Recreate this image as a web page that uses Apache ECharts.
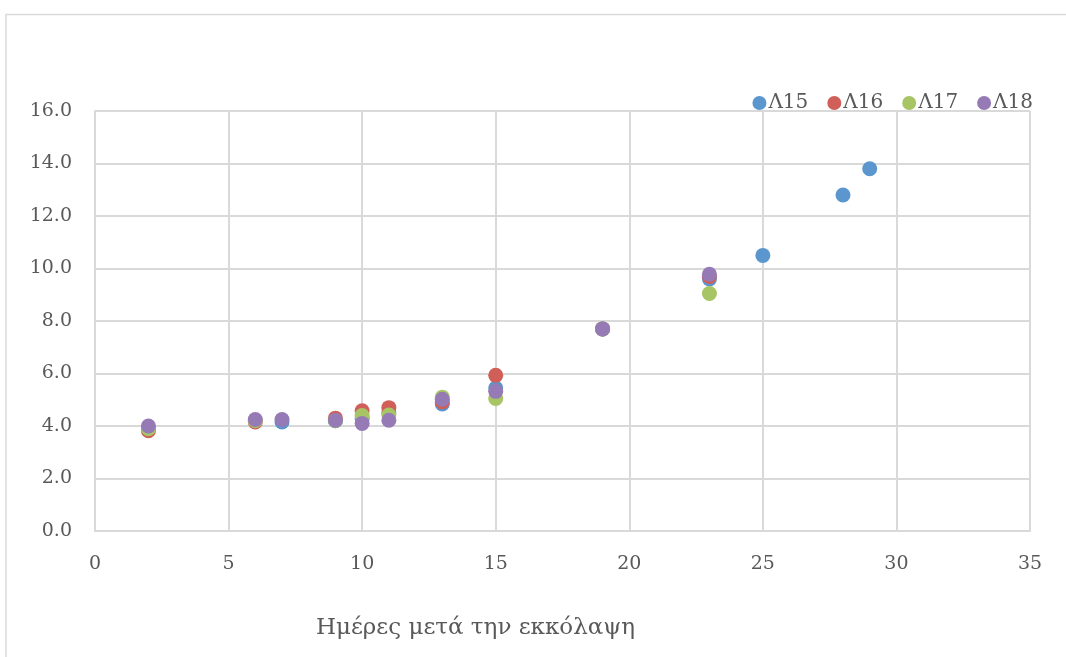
<!DOCTYPE html>
<html>
<head>
<meta charset="utf-8">
<script src="https://cdn.jsdelivr.net/npm/echarts@6/dist/echarts.min.js"></script>
<style>
  html, body { margin: 0; padding: 0; background: #ffffff; }
  #chart { width: 1066px; height: 657px; }
</style>
</head>
<body>
<div id="chart"></div>
<script>
// Growth measurements per line: [day after hatching, value]
const seriesNames = ['Λ15', 'Λ16', 'Λ17', 'Λ18'];
const l15 = [[2, 3.9], [7, 4.15], [9, 4.2], [10, 4.28], [11, 4.5], [13, 4.84], [15, 5.45], [19, 7.7], [23, 9.6], [25, 10.5], [28, 12.8], [29, 13.8]];
const l16 = [[2, 3.82], [6, 4.15], [9, 4.3], [10, 4.58], [11, 4.7], [13, 4.92], [15, 5.93], [19, 7.7], [23, 9.7]];
const l17 = [[2, 3.9], [6, 4.2], [9, 4.2], [10, 4.4], [11, 4.42], [13, 5.1], [15, 5.05], [19, 7.7], [23, 9.05]];
const l18 = [[2, 4.0], [6, 4.25], [7, 4.25], [9, 4.22], [10, 4.1], [11, 4.22], [13, 5.02], [15, 5.32], [19, 7.7], [23, 9.78]];
const seriesData = [l15, l16, l17, l18];
const colors = ['#5B96CE', '#CF5F58', '#A8C566', '#957AB6'];

const xTicks = { min: 0, max: 35, interval: 5 };
const yTicks = { min: 0, max: 16, interval: 2 };
const xTitle = 'Ημέρες μετά την εκκόλαψη';

const fontFamily = '"DejaVu Serif", "Liberation Serif", serif';
const gridColor = '#d9d9d9';
const textColor = '#595959';

const chart = echarts.init(document.getElementById('chart'), null, { renderer: 'canvas' });

chart.setOption({
  animation: false,
  backgroundColor: '#ffffff',
  color: colors,
  graphic: [{
    type: 'rect',
    left: 3.5, top: 12,
    shape: { width: 1100, height: 700 },
    style: { fill: 'none', stroke: gridColor, lineWidth: 1.5 },
    silent: true
  }],
  grid: { left: 95, right: 36, top: 111, bottom: 126 },
  legend: {
    data: seriesNames,
    right: 28, top: 88,
    icon: 'circle',
    itemWidth: 14, itemHeight: 14, itemGap: 19,
    textStyle: { fontFamily, fontSize: 20, color: textColor, padding: [0, 0, 0, -3] }
  },
  xAxis: {
    type: 'value',
    min: xTicks.min, max: xTicks.max, interval: xTicks.interval,
    name: xTitle,
    nameLocation: 'middle',
    nameGap: 86,
    nameTextStyle: { fontFamily, fontSize: 23, color: textColor, padding: [0, 174, 0, 0] },
    axisLine: { show: true, lineStyle: { color: gridColor, width: 2 } },
    axisTick: { show: false },
    splitLine: { show: true, lineStyle: { color: gridColor, width: 2 } },
    axisLabel: { fontFamily, fontSize: 19, color: textColor, margin: 24 }
  },
  yAxis: {
    type: 'value',
    min: yTicks.min, max: yTicks.max, interval: yTicks.interval,
    axisLine: { show: true, lineStyle: { color: gridColor, width: 2 } },
    axisTick: { show: false },
    splitLine: { show: true, lineStyle: { color: gridColor, width: 2 } },
    axisLabel: { fontFamily, fontSize: 19, color: textColor, margin: 23, formatter: v => v.toFixed(1) }
  },
  series: seriesNames.map((name, i) => ({
    name,
    type: 'scatter',
    data: seriesData[i],
    symbol: 'circle',
    symbolSize: 15,
    itemStyle: { color: colors[i], opacity: 1 }
  }))
});
</script>
</body>
</html>
